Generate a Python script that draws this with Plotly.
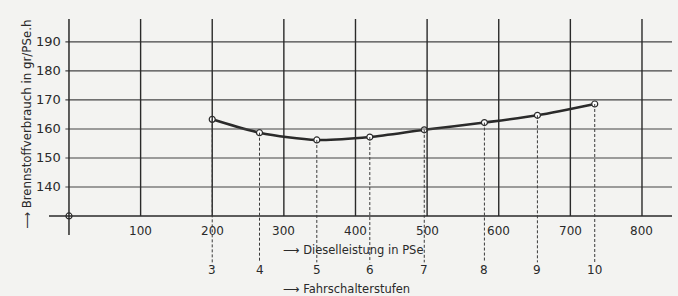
import plotly.graph_objects as go

# --- data ---
power_pse = [200, 266, 346, 420, 496, 580, 654, 734]          # Dieselleistung in PSe
consumption = [163.3, 158.7, 156.2, 157.2, 159.7, 162.2, 164.7, 168.6]  # gr/PSe.h
step_labels = ["3", "4", "5", "6", "7", "8", "9", "10"]        # Fahrschalterstufen
x_ticks = [100, 200, 300, 400, 500, 600, 700, 800]
y_ticks = [140, 150, 160, 170, 180, 190]
origin = (0, 130)

# --- layout constants ---
X0, X1 = -27.9, 841.9
Y0, Y1 = 102.4, 197.9
INK = "#2a2a2a"
BG = "#f3f3f1"
FONT = "DejaVu Sans"

fig = go.Figure()
shapes = []
# horizontal grid lines
for yv in y_ticks:
    shapes.append(dict(type="line", xref="x", yref="y", x0=-5, x1=X1, y0=yv, y1=yv,
                       line=dict(color="#444444", width=1.1)))
# baseline
shapes.append(dict(type="line", xref="x", yref="y", x0=X0, x1=X1, y0=origin[1], y1=origin[1],
                   line=dict(color=INK, width=1.5)))
# vertical axis through origin
shapes.append(dict(type="line", xref="x", yref="y", x0=0, x1=0, y0=123.4, y1=Y1,
                   line=dict(color=INK, width=1.5)))
# vertical grid lines
for xv in x_ticks:
    shapes.append(dict(type="line", xref="x", yref="y", x0=xv, x1=xv, y0=origin[1], y1=Y1,
                       line=dict(color=INK, width=1.4)))
# dashed drop lines
for xv, yv in zip(power_pse, consumption):
    shapes.append(dict(type="line", xref="x", yref="y", x0=xv, x1=xv, y0=yv, y1=114.0,
                       line=dict(color="#3a3a3a", width=1, dash="3px,2px")))

# curve
fig.add_trace(go.Scatter(x=power_pse, y=consumption, mode="lines",
                         line=dict(color=INK, width=2.6, shape="spline", smoothing=0.8),
                         hoverinfo="skip", showlegend=False))
# markers
fig.add_trace(go.Scatter(x=power_pse + [origin[0]], y=consumption + [origin[1]], mode="markers",
                         marker=dict(symbol="circle", size=6, color="white",
                                     line=dict(color=INK, width=1.2)),
                         showlegend=False))

annotations = []
for xv in x_ticks:
    annotations.append(dict(x=xv, y=124.8, xref="x", yref="y", text=str(xv), showarrow=False,
                            font=dict(family=FONT, size=12, color=INK)))
for yv in y_ticks:
    annotations.append(dict(x=-9, y=yv, xref="x", yref="y", text=str(yv), showarrow=False,
                            xanchor="right", font=dict(family=FONT, size=13, color=INK)))
for xv, s in zip(power_pse, step_labels):
    annotations.append(dict(x=xv, y=111.3, xref="x", yref="y", text=s, showarrow=False,
                            font=dict(family=FONT, size=12, color=INK)))
annotations.append(dict(x=296, y=118.4, xref="x", yref="y", text="⟶ Dieselleistung in PSe",
                        showarrow=False, xanchor="left",
                        font=dict(family=FONT, size=11.5, color=INK)))
annotations.append(dict(x=296, y=104.8, xref="x", yref="y", text="⟶ Fahrschalterstufen",
                        showarrow=False, xanchor="left",
                        font=dict(family=FONT, size=11.5, color=INK)))
annotations.append(dict(x=(27 - 49) / (678 - 55), y=(296 - 125) / 277, xref="paper", yref="paper",
                        xanchor="center", yanchor="middle",
                        text="⟶ Brennstoffverbrauch in gr/PSe.h",
                        showarrow=False, textangle=-90, font=dict(family=FONT, size=11.8, color=INK)))

fig.update_layout(
    width=678, height=296,
    margin=dict(l=49, r=6, t=19, b=0),
    paper_bgcolor=BG, plot_bgcolor=BG,
    shapes=shapes,
    annotations=annotations,
    xaxis=dict(range=[X0, X1], visible=False, fixedrange=True),
    yaxis=dict(range=[Y0, Y1], visible=False, fixedrange=True),
    showlegend=False,
)

fig.write_html("out.html", config={"displayModeBar": False},
               post_script="document.body.style.margin='0';document.body.style.background='%s';" % BG)
